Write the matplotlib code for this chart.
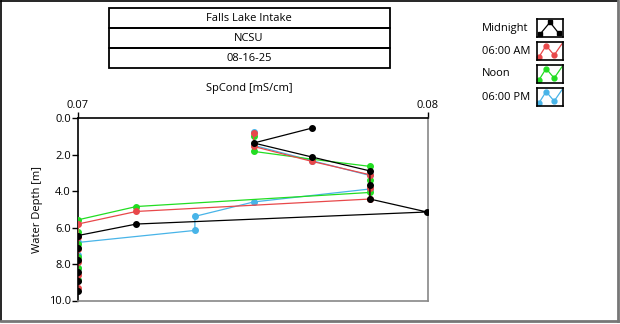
import numpy as np
import matplotlib
matplotlib.use("Agg")
import matplotlib.pyplot as plt
from matplotlib.patches import Rectangle

plt.rcParams['font.family'] = ['Open Sans', 'DejaVu Sans']

# chart text
title_rows = ["Falls Lake Intake", "NCSU", "08-16-25"]
x_label = "SpCond [mS/cm]"
y_label = "Water Depth [m]"
series_names = ["Midnight", "06:00 AM", "Noon", "06:00 PM"]
series_colors = ["#000000", "#e8484a", "#22dd22", "#48b4e8"]

# SpCond readings vs depth, one list per time of day
midnight_depth = [0.55, 1.37, 2.14, 2.90, 3.69, 4.44, 5.15, 5.81, 6.44, 7.13, 7.80, 8.42, 8.95, 9.49]
midnight_cond = [0.07669, 0.07502, 0.07669, 0.07834, 0.07834, 0.07834, 0.07997, 0.07167,
                 0.0700, 0.0700, 0.0700, 0.0700, 0.0700, 0.0700]

am_depth = [0.82, 1.56, 2.38, 3.11, 3.86, 4.44, 5.12, 5.81, 6.50, 7.20, 7.90, 8.60, 9.30]
am_cond = [0.07502, 0.07502, 0.07669, 0.07834, 0.07834, 0.07834, 0.07167, 0.0700,
           0.0700, 0.0700, 0.0700, 0.0700, 0.0700]

noon_depth = [1.00, 1.83, 2.26, 2.65, 3.38, 4.08, 4.85, 5.58, 6.25, 6.92, 7.59, 8.22, 8.90]
noon_cond = [0.07502, 0.07502, 0.07669, 0.07834, 0.07834, 0.07834, 0.07167, 0.0700,
             0.0700, 0.0700, 0.0700, 0.0700, 0.0700]

pm_depth = [0.79, 1.50, 2.34, 3.15, 3.89, 4.60, 5.39, 6.16, 6.82, 7.53, 8.20, 8.86]
pm_cond = [0.07502, 0.07502, 0.07669, 0.07834, 0.07834, 0.07502, 0.07334, 0.07334,
           0.0700, 0.0700, 0.0700, 0.0700]

x_ticks = [0.07, 0.08]
y_ticks = [0.0, 2.0, 4.0, 6.0, 8.0, 10.0]

# legend glyph shapes (x, y inside the small icon box)
glyph_black = ([0.12, 0.5, 0.84], [0.16, 0.82, 0.2])
glyph_wave = ([0.08, 0.35, 0.66, 0.96], [0.18, 0.8, 0.27, 0.9])

W, H = 620, 324
fig = plt.figure(figsize=(W / 100, H / 100), dpi=100)


def fx(px):
    return px / W


def fy(py):
    return 1 - py / H


# outer frame
fig.add_artist(plt.Line2D([fx(1), fx(1)], [fy(1), fy(321)], color="black", lw=1.2))
fig.add_artist(plt.Line2D([fx(1), fx(618)], [fy(1), fy(1)], color="black", lw=1.2))
fig.add_artist(plt.Line2D([fx(618), fx(618)], [fy(1), fy(321)], color="#777777", lw=2))
fig.add_artist(plt.Line2D([fx(1), fx(618)], [fy(321), fy(321)], color="#777777", lw=2))

# title boxes
row_edges = [8, 28, 48, 68]
for i, txt in enumerate(title_rows):
    top, bot = row_edges[i], row_edges[i + 1]
    fig.add_artist(Rectangle((fx(109), fy(bot)), fx(390) - fx(109), fy(top) - fy(bot),
                             fill=False, edgecolor="black", lw=1.3))
    fig.text(fx(249), fy((top + bot) / 2 + 0.5), txt, ha="center", va="center", fontsize=8)

fig.text(fx(249), fy(88), x_label, ha="center", va="center", fontsize=8)

# main axes
ax = fig.add_axes([fx(78), fy(300.5), fx(428) - fx(78), fy(118) - fy(300.5)])
all_depth = [midnight_depth, am_depth, noon_depth, pm_depth]
all_cond = [midnight_cond, am_cond, noon_cond, pm_cond]
zorders = [5, 4, 3, 2]
for d, c, col, z in zip(all_depth, all_cond, series_colors, zorders):
    ax.plot(c, d, color=col, lw=0.9, marker="o", markersize=4, zorder=z)

ax.set_xlim(0.07, 0.08)
ax.set_ylim(10, 0)
ax.xaxis.tick_top()
ax.set_xticks(x_ticks)
ax.set_xticklabels(["%.2f" % v for v in x_ticks])
ax.set_yticks(y_ticks)
ax.set_yticklabels(["%.1f" % v for v in y_ticks])
ax.tick_params(axis="both", direction="out", length=4, width=1, labelsize=8, pad=1)
ax.set_ylabel(y_label, fontsize=8, labelpad=4)
ax.spines["top"].set_color("black")
ax.spines["left"].set_color("black")
ax.spines["right"].set_color("#888888")
ax.spines["bottom"].set_color("#888888")
for s in ax.spines.values():
    s.set_linewidth(1.2)

# legend
leg_tops = [19, 42, 65, 88]
for i, name in enumerate(series_names):
    top = leg_tops[i]
    fig.text(fx(482), fy(top + 9), name, ha="left", va="center", fontsize=8)
    lax = fig.add_axes([fx(537), fy(top + 18), fx(563) - fx(537), fy(top) - fy(top + 18)])
    if i == 0:
        gx, gy = glyph_black
        lax.plot(gx, gy, color=series_colors[i], lw=0.9, marker="s", markersize=3, clip_on=False)
    else:
        gx, gy = glyph_wave
        lax.plot(gx, gy, color=series_colors[i], lw=0.9, clip_on=False)
        lax.plot(gx[:3], gy[:3], ls="none", color=series_colors[i], marker="o", markersize=3.5,
                 clip_on=False)
    lax.set_xlim(0, 1)
    lax.set_ylim(0, 1)
    lax.set_xticks([])
    lax.set_yticks([])
    for s in lax.spines.values():
        s.set_linewidth(1.2)

fig.savefig("out.png", dpi=100)
